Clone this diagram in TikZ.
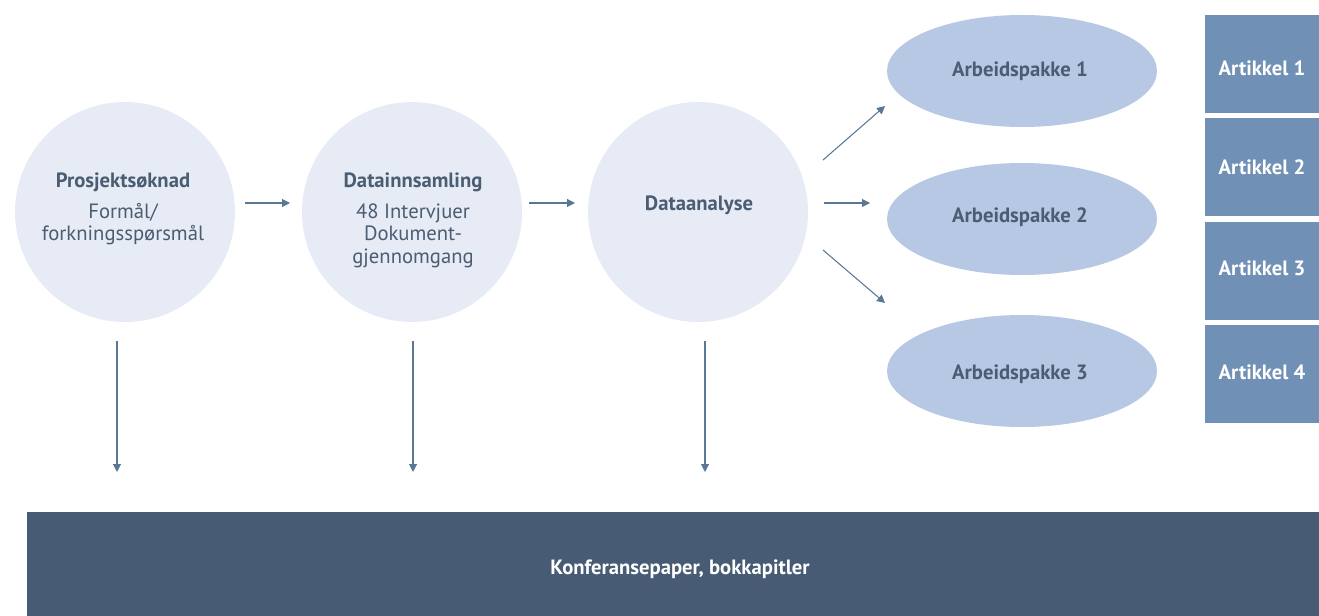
\documentclass[tikz,border=0pt]{standalone}
\usepackage{fontspec}
\setmainfont{PT Sans}
\usetikzlibrary{shapes.geometric,arrows.meta}
\definecolor{circfill}{HTML}{E6EBF5}
\definecolor{ellfill}{HTML}{B6C8E4}
\definecolor{boxfill}{HTML}{7090B5}
\definecolor{barfill}{HTML}{475C74}
\definecolor{txt}{HTML}{4A5D73}
\definecolor{arr}{HTML}{5A7896}
\tikzset{
  circ/.style={circle,fill=circfill,minimum size=165pt,inner sep=0pt},
  ell/.style={ellipse,fill=ellfill,minimum width=202.5pt,minimum height=84pt,inner sep=0pt},
  art/.style={rectangle,fill=boxfill,minimum width=85.5pt,minimum height=73.5pt,inner sep=0pt},
  bold/.style={font=\bfseries\fontsize{15.5}{18}\selectfont,inner sep=0pt,anchor=base},
  ttl/.style={bold,text=txt},
  wtxt/.style={bold,text=white},
  sub/.style={text=txt,font=\fontsize{15.5}{18}\selectfont,inner sep=0pt,align=center,anchor=base},
  con/.style={arr,line width=0.8pt,-{Triangle[length=6pt,width=6pt]}}
}
\begin{document}
\begin{tikzpicture}[x=0.75pt,y=-0.75pt]
\useasboundingbox (0,0) rectangle (1319,616);
% circles
\node[circ] (c1) at (125,212) {};
\node[circ] (c2) at (412,212) {};
\node[circ] (c3) at (698,212) {};
\node[ttl] (t1) at (123,188) {Prosjektsøknad};
\node[sub] (s1) at (123,219) {Formål/};
\node[sub] (s1b) at (123,241) {forkningsspørsmål};
\node[ttl] (t2) at (413,188) {Datainnsamling};
\node[sub] (s2) at (413,219) {48 Intervjuer};
\node[sub] (s2b) at (413,241) {Dokument-};
\node[sub] (s2c) at (413,264) {gjennomgang};
\node[ttl] (t3) at (699,211) {Dataanalyse};
% ellipses
\node[ell] (e1) at (1022,71) {};
\node[ell] (e2) at (1022,219) {};
\node[ell] (e3) at (1022,371) {};
\node[ttl] (et1) at (1020,77) {Arbeidspakke 1};
\node[ttl] (et2) at (1020,223) {Arbeidspakke 2};
\node[ttl] (et3) at (1020,379) {Arbeidspakke 3};
% article boxes
\node[art] (a1) at (1262,64) {};
\node[art] (a2) at (1262,167) {};
\node[art] (a3) at (1262,271) {};
\node[art] (a4) at (1262,374) {};
\node[wtxt] (at1) at (1262,76) {Artikkel 1};
\node[wtxt] (at2) at (1262,175) {Artikkel 2};
\node[wtxt] (at3) at (1262,276) {Artikkel 3};
\node[wtxt] (at4) at (1262,379) {Artikkel 4};
% bottom bar
\node[rectangle,fill=barfill,minimum width=969pt,minimum height=78pt,inner sep=0pt] (bar) at (673,564) {};
\node[wtxt] (bt) at (680,574) {Konferansepaper, bokkapitler};
% connector end points
\coordinate (h1a) at (245,203); \coordinate (h1b) at (290,203);
\coordinate (h2a) at (529,203); \coordinate (h2b) at (575,203);
\coordinate (d1a) at (823,160); \coordinate (d1b) at (885,106);
\coordinate (d2a) at (824,203); \coordinate (d2b) at (870,203);
\coordinate (d3a) at (823,250); \coordinate (d3b) at (885,303);
\coordinate (v1a) at (117,341); \coordinate (v1b) at (117,472);
\coordinate (v2a) at (413,341); \coordinate (v2b) at (413,472);
\coordinate (v3a) at (705,341); \coordinate (v3b) at (705,472);
\draw[con] (h1a) -- (h1b);
\draw[con] (h2a) -- (h2b);
\draw[con] (d1a) -- (d1b);
\draw[con] (d2a) -- (d2b);
\draw[con] (d3a) -- (d3b);
\draw[con] (v1a) -- (v1b);
\draw[con] (v2a) -- (v2b);
\draw[con] (v3a) -- (v3b);
\end{tikzpicture}
\end{document}
